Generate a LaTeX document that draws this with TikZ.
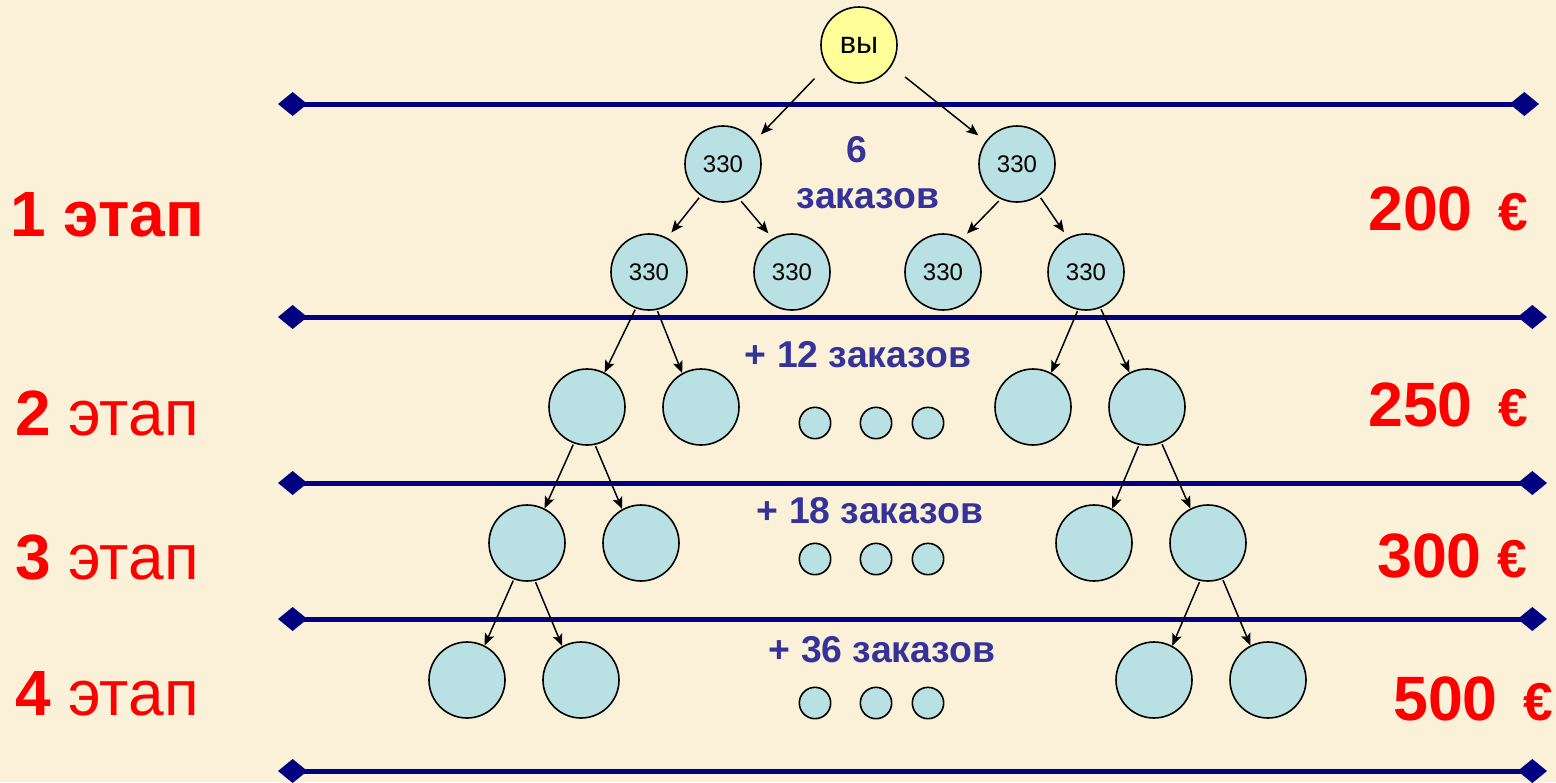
\documentclass[tikz,border=0pt]{standalone}
\usepackage{fontspec}
\setmainfont{Liberation Sans}
\usetikzlibrary{arrows.meta}

\definecolor{paper}{RGB}{251,240,216}
\definecolor{navy}{RGB}{0,0,128}
\definecolor{ballfill}{RGB}{185,224,227}
\definecolor{youfill}{RGB}{255,255,153}
\definecolor{ink}{RGB}{51,51,153}

\newcommand{\eur}{{\fontsize{40}{44}\selectfont €}}

\begin{document}
\begin{tikzpicture}
  [x=0.75pt,y=-0.75pt,
   ball/.style={circle,draw,line width=1.2pt,fill=ballfill,minimum size=57pt,inner sep=0pt,font=\fontsize{18}{20}\selectfont},
   dot/.style={circle,draw,line width=1.2pt,fill=ballfill,minimum size=23.5pt,inner sep=0pt},
   level/.style={navy,line width=3.75pt,{Diamond[length=22pt,width=18pt]}-{Diamond[length=22pt,width=18pt]}},
   link/.style={-{Stealth[length=9pt,width=7.5pt,inset=2pt]},line width=1.1pt,shorten <=1pt},
   stage/.style={red,font=\fontsize{48}{52}\selectfont,anchor=base west,inner sep=0pt},
   price/.style={red,font=\bfseries\fontsize{47}{50}\selectfont,anchor=base west,inner sep=0pt},
   orders/.style={ink,font=\bfseries\fontsize{28}{32}\selectfont,anchor=base,inner sep=0pt}]

  \useasboundingbox (0,0) rectangle (1556,782);
  \fill[paper] (0,0) rectangle (1556,782);

  % levels
  \foreach \i/\y/\xe in {1/104/1539,2/317/1547,3/483/1547,4/619/1547,5/771/1547} {
    \coordinate (lw\i) at (278,\y);
    \coordinate (le\i) at (\xe,\y);
    \draw[level] (lw\i) -- (le\i);
  }

  % tree
  \node[ball,fill=youfill,font=\fontsize{23}{25}\selectfont] (you) at (859,45) {вы};
  \node[ball] (n1) at (723,164) {330};
  \node[ball] (n2) at (1017,164) {330};
  \node[ball] (n3) at (649,272) {330};
  \node[ball] (n4) at (792,272) {330};
  \node[ball] (n5) at (943,272) {330};
  \node[ball] (n6) at (1086,272) {330};
  \node[ball] (n7) at (587,407) {};
  \node[ball] (n8) at (701,407) {};
  \node[ball] (n9) at (1033,407) {};
  \node[ball] (n10) at (1147,407) {};
  \node[ball] (n11) at (527,543) {};
  \node[ball] (n12) at (641,543) {};
  \node[ball] (n13) at (1094,543) {};
  \node[ball] (n14) at (1208,543) {};
  \node[ball] (n15) at (467,680) {};
  \node[ball] (n16) at (581,680) {};
  \node[ball] (n17) at (1154,680) {};
  \node[ball] (n18) at (1268,680) {};

  \foreach \r/\y in {1/423,2/559,3/703} {
    \node[dot] (m\r a) at (815,\y) {};
    \node[dot] (m\r b) at (876,\y) {};
    \node[dot] (m\r c) at (928,\y) {};
  }

  \draw[link,shorten <=13pt,shorten >=7pt] (you.213) -- (n1.36);
  \draw[link,shorten <=13pt,shorten >=7pt] (you.327) -- (n2.144);
  \foreach \from/\fa/\to/\ta in {n1/235/n3/62,n1/295/n4/120,n2/245/n5/60,n2/305/n6/118}
    \draw[link,shorten <=2pt,shorten >=5pt] (\from.\fa) -- (\to.\ta);
  \foreach \from/\fa/\to/\ta in {n3/250/n7/63,n3/282/n8/119,n6/258/n9/62,n6/292/n10/117,
                                n7/250/n11/63,n7/282/n12/119,n10/258/n13/62,n10/292/n14/117,
                                n11/250/n15/63,n11/282/n16/119,n14/258/n17/62,n14/292/n18/117}
    \draw[link] (\from.\fa) -- (\to.\ta);

  % texts
  \node[orders] (z1a) at (857,162) {6};
  \node[orders] (z1b) at (868,208) {заказов};
  \node[orders] (z2) at (858,367) {+ 12 заказов};
  \node[orders] (z3) at (870,523) {+ 18 заказов};
  \node[orders] (z4) at (882,662) {+ 36 заказов};

  \node[stage] (t1) at (10,236) {\bfseries 1 этап};
  \node[stage] (t2) at (15,435) {\textbf{2} этап};
  \node[stage] (t3) at (15,579) {\textbf{3} этап};
  \node[stage] (t4) at (15,715) {\textbf{4} этап};

  \node[price] (p1) at (1368,230) {200\hspace{19pt}\eur};
  \node[price] (p2) at (1368,426) {250\hspace{19pt}\eur};
  \node[price] (p3) at (1377,577) {300\hspace{12pt}\eur};
  \node[price] (p4) at (1393,720) {500\hspace{19pt}\eur};

\end{tikzpicture}
\end{document}
